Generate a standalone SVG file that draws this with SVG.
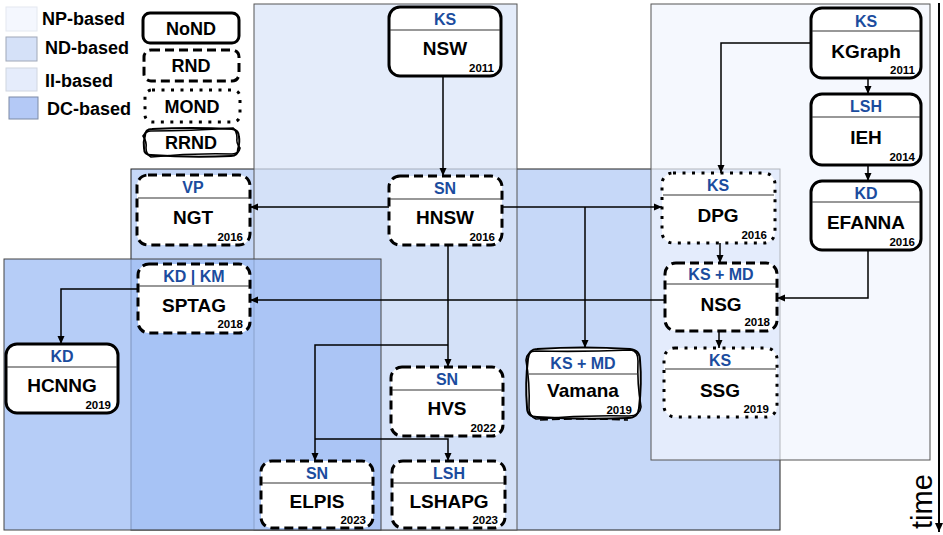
<svg xmlns="http://www.w3.org/2000/svg" width="943" height="535" viewBox="0 0 943 535">
<defs>
<marker id="ah" markerUnits="userSpaceOnUse" markerWidth="9" markerHeight="8" refX="8" refY="4" orient="auto"><path d="M0,0.5 L8,4 L0,7.5 z" fill="#000"/></marker>
<marker id="ahT" markerUnits="userSpaceOnUse" markerWidth="10" markerHeight="10" refX="9" refY="5" orient="auto"><path d="M0,1 L9,5 L0,9 z" fill="#000"/></marker>
</defs>
<style>
text{font-family:"Liberation Sans",Arial,sans-serif}
.bx{fill:#fff;stroke:#000;stroke-width:3}
.dash{stroke-dasharray:9 5}
.dot{stroke-dasharray:3 6.5}
.sep{stroke:#333;stroke-width:1.2}
.hd{font-weight:bold;font-size:16px;fill:#1b4c9e;text-anchor:middle}
.nm{font-weight:bold;font-size:19px;fill:#000;text-anchor:middle}
.yr{font-weight:bold;font-size:11.5px;fill:#000;text-anchor:end}
.lg{font-weight:bold;font-size:18px;fill:#000}
.lb{font-weight:bold;font-size:18px;fill:#000;text-anchor:middle}
.edge{fill:none;stroke:#000;stroke-width:1.5}
.wav{fill:none;stroke:#000;stroke-width:1.6}
.wavf{fill:#fff;stroke:#000;stroke-width:2}
</style>
<g id="regions">
<rect x="131" y="169" width="649" height="361" fill="#c6d8f8" stroke="#222" stroke-width="1"/>
<rect x="254" y="4" width="263" height="526" fill="rgb(218,229,248)" fill-opacity="0.72" stroke="#555" stroke-width="1"/>
<rect x="4" y="259" width="377" height="271" fill="rgb(157,187,244)" fill-opacity="0.74" stroke="#444" stroke-width="1"/>
<rect x="651" y="4" width="279" height="456" fill="rgb(241,245,254)" fill-opacity="0.7" stroke="#555" stroke-width="1"/>
</g>
<g id="legend">
<rect x="6" y="7" width="31" height="24" fill="#f4f7fe" stroke="#e4e8f0"/>
<text class="lg" x="42" y="25">NP-based</text>
<rect x="6" y="37" width="31" height="24" fill="#d5e1f8" stroke="#a0a8b8"/>
<text class="lg" x="45" y="54">ND-based</text>
<rect x="6" y="68" width="31" height="23" fill="#e5ecfb" stroke="#d0d6e0"/>
<text class="lg" x="45" y="87">II-based</text>
<rect x="9" y="97" width="29" height="22" fill="#b4c9f6" stroke="#7d8aa5"/>
<text class="lg" x="47" y="115">DC-based</text>
<rect class="bx" x="143" y="13" width="96" height="30" rx="7"/>
<text class="lb" x="191" y="35">NoND</text>
<rect class="bx dash" x="144" y="50" width="95" height="31" rx="7"/>
<text class="lb" x="191" y="72">RND</text>
<rect class="bx dot" x="145" y="90" width="95" height="32" rx="7"/>
<text class="lb" x="192" y="113">MOND</text>
<path class="wavf" d="M152,129 Q191,127 232,129 Q239,130 239,137 Q240,142 238,149 Q238,156 231,156 Q191,158 151,155 Q144,155 144,148 Q143,142 145,136 Q145,129 152,129 Z"/>
<path class="wav" d="M151,131 Q191,131 233,128 Q237,131 237,138 Q236,143 240,148 Q239,154 232,154 Q191,153 151,157 Q146,154 146,148 Q147,142 143,136 Q146,131 151,131 Z"/>
<text class="lb" x="191" y="149">RRND</text>
</g>
<g id="connectors">
<path class="edge" d="M443,76 V176" marker-end="url(#ah)"/>
<path class="edge" d="M389,207 H250" marker-end="url(#ah)"/>
<path class="edge" d="M502,207 H662" marker-end="url(#ah)"/>
<path class="edge" d="M585,207 V348" marker-end="url(#ah)"/>
<path class="edge" d="M448,245 V367" marker-end="url(#ah)"/>
<path class="edge" d="M448,345 H315 V461" marker-end="url(#ah)"/>
<path class="edge" d="M315,439 H448 V461" marker-end="url(#ah)"/>
<path class="edge" d="M665,300 H250" marker-end="url(#ah)"/>
<path class="edge" d="M138,289 H61 V344" marker-end="url(#ah)"/>
<path class="edge" d="M811,43 H721 V173" marker-end="url(#ah)"/>
<path class="edge" d="M868,78 V94" marker-end="url(#ah)"/>
<path class="edge" d="M868,165 V181" marker-end="url(#ah)"/>
<path class="edge" d="M868,250 V298 H777" marker-end="url(#ah)"/>
<path class="edge" d="M720,243 V263" marker-end="url(#ah)"/>
<path class="edge" d="M719,331 V348" marker-end="url(#ah)"/>
</g>
<g id="n-NSW"><rect class="bx" x="389" y="7" width="112" height="69" rx="11"/><line class="sep" x1="390" y1="30" x2="500" y2="30"/><text class="hd" x="445" y="25">KS</text><text class="nm" x="445" y="55">NSW</text><text class="yr" x="494" y="72">2011</text></g>
<g id="n-HNSW"><rect class="bx dash" x="389" y="176" width="113" height="69" rx="11"/><line class="sep" x1="390" y1="199" x2="501" y2="199"/><text class="hd" x="445" y="194">SN</text><text class="nm" x="445" y="224">HNSW</text><text class="yr" x="495" y="241">2016</text></g>
<g id="n-NGT"><rect class="bx dash" x="137" y="175" width="113" height="70" rx="11"/><line class="sep" x1="138" y1="198" x2="249" y2="198"/><text class="hd" x="193" y="193">VP</text><text class="nm" x="193" y="224">NGT</text><text class="yr" x="243" y="241">2016</text></g>
<g id="n-SPTAG"><rect class="bx dash" x="138" y="264" width="112" height="69" rx="11"/><line class="sep" x1="139" y1="286" x2="249" y2="286"/><text class="hd" x="194" y="282">KD | KM</text><text class="nm" x="194" y="312">SPTAG</text><text class="yr" x="243" y="328">2018</text></g>
<g id="n-HCNNG"><rect class="bx" x="6" y="344" width="112" height="69" rx="11"/><line class="sep" x1="7" y1="367" x2="117" y2="367"/><text class="hd" x="62" y="362">KD</text><text class="nm" x="62" y="392">HCNNG</text><text class="yr" x="111" y="409">2019</text></g>
<g id="n-ELPIS"><rect class="bx dash" x="261" y="461" width="112" height="67" rx="11"/><line class="sep" x1="262" y1="483" x2="372" y2="483"/><text class="hd" x="317" y="479">SN</text><text class="nm" x="317" y="508">ELPIS</text><text class="yr" x="366" y="524">2023</text></g>
<g id="n-HVS"><rect class="bx dash" x="391" y="367" width="112" height="69" rx="11"/><line class="sep" x1="392" y1="390" x2="502" y2="390"/><text class="hd" x="447" y="385">SN</text><text class="nm" x="447" y="415">HVS</text><text class="yr" x="496" y="432">2022</text></g>
<g id="n-LSHAPG"><rect class="bx dash" x="392" y="461" width="113" height="67" rx="11"/><line class="sep" x1="393" y1="483" x2="504" y2="483"/><text class="hd" x="449" y="479">LSH</text><text class="nm" x="449" y="508">LSHAPG</text><text class="yr" x="498" y="524">2023</text></g>
<g id="n-Vamana">
<path class="wavf" d="M537,349 Q583,346 630,349 Q640,350 640,360 Q642,383 639,408 Q638,418 628,418 Q583,420 537,417 Q527,417 527,407 Q525,383 528,359 Q529,349 537,349 Z"/>
<path class="wav" d="M536,351 Q583,352 631,350 Q638,351 638,361 Q637,383 641,407 Q640,416 629,416 Q583,415 536,419 Q529,416 529,408 Q530,383 526,360 Q527,351 536,351 Z"/>
<path class="wav" stroke-dasharray="8 4" d="M540,420 Q583,418 628,420"/>
<line class="sep" x1="529" y1="374" x2="638" y2="374"/><text class="hd" x="583" y="369">KS + MD</text><text class="nm" x="583" y="397">Vamana</text><text class="yr" x="632" y="414">2019</text></g>
<g id="n-DPG"><rect class="bx dot" x="662" y="173" width="113" height="70" rx="11"/><line class="sep" x1="663" y1="195" x2="774" y2="195"/><text class="hd" x="718" y="191">KS</text><text class="nm" x="718" y="222">DPG</text><text class="yr" x="767" y="239">2016</text></g>
<g id="n-NSG"><rect class="bx dash" x="665" y="263" width="112" height="68" rx="11"/><line class="sep" x1="666" y1="284" x2="776" y2="284"/><text class="hd" x="721" y="280">KS + MD</text><text class="nm" x="721" y="311">NSG</text><text class="yr" x="770" y="326">2018</text></g>
<g id="n-SSG"><rect class="bx dot" x="664" y="348" width="113" height="69" rx="11"/><line class="sep" x1="665" y1="369" x2="776" y2="369"/><text class="hd" x="720" y="366">KS</text><text class="nm" x="720" y="397">SSG</text><text class="yr" x="769" y="413">2019</text></g>
<g id="n-KGraph"><rect class="bx" x="811" y="8" width="110" height="70" rx="11"/><line class="sep" x1="812" y1="31" x2="920" y2="31"/><text class="hd" x="866" y="27">KS</text><text class="nm" x="866" y="58">KGraph</text><text class="yr" x="915" y="74">2011</text></g>
<g id="n-IEH"><rect class="bx" x="811" y="94" width="110" height="71" rx="11"/><line class="sep" x1="812" y1="117" x2="920" y2="117"/><text class="hd" x="866" y="112">LSH</text><text class="nm" x="866" y="144">IEH</text><text class="yr" x="915" y="161">2014</text></g>
<g id="n-EFANNA"><rect class="bx" x="811" y="181" width="110" height="69" rx="11"/><line class="sep" x1="812" y1="202" x2="920" y2="202"/><text class="hd" x="866" y="199">KD</text><text class="nm" x="866" y="229">EFANNA</text><text class="yr" x="915" y="246">2016</text></g>
<g id="time-axis">
<path d="M939,3 V532" fill="none" stroke="#000" stroke-width="2" marker-end="url(#ahT)"/>
<text transform="translate(932,529) rotate(-90)" font-size="29" fill="#000">time</text>
</g>
</svg>
